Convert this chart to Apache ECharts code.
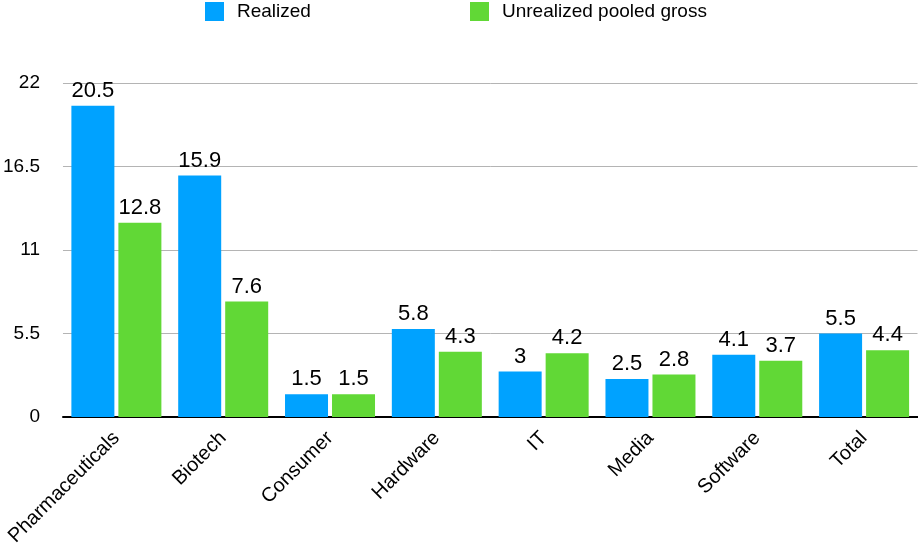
<!DOCTYPE html>
<html>
<head>
<meta charset="utf-8">
<script src="https://cdn.jsdelivr.net/npm/echarts@6/dist/echarts.min.js"></script>
<style>
html,body{margin:0;padding:0;background:#fff;}
#chart{width:918px;height:550px;}
</style>
</head>
<body>
<div id="chart"></div>
<script>
var categories = ['Pharmaceuticals','Biotech','Consumer','Hardware','IT','Media','Software','Total'];
var realized = [20.5, 15.9, 1.5, 5.8, 3, 2.5, 4.1, 5.5];
var unrealized = [12.8, 7.6, 1.5, 4.3, 4.2, 2.8, 3.7, 4.4];
var seriesNames = ['Realized','Unrealized pooled gross'];
var yMin = 0, yMax = 22, yStep = 5.5;

var FONT = '"Liberation Sans", Arial, Helvetica, sans-serif';
var chart = echarts.init(document.getElementById('chart'), null, {renderer:'canvas'});
var legendText = {fontFamily: FONT, fontSize: 19, color:'#000', padding:[0,0,0,8]};
chart.setOption({
  animation: false,
  color: ['#00A2FF', '#61D836'],
  legend: [
    {data:[seriesNames[0]], left:200, top:-3, itemWidth:19, itemHeight:19, icon:'rect', textStyle: legendText},
    {data:[seriesNames[1]], left:465, top:-3, itemWidth:19, itemHeight:19, icon:'rect', textStyle: legendText}
  ],
  grid: {left:62.6, right:0.5, top:83, bottom:133, containLabel:false},
  xAxis: {
    type:'category',
    data: categories,
    axisLine:{lineStyle:{color:'#000', width:2}},
    axisTick:{show:false},
    axisLabel:{rotate:45, interval:0, margin:18, fontFamily:FONT, fontSize:20, color:'#000'}
  },
  yAxis: {
    type:'value', min:yMin, max:yMax, interval:yStep,
    axisLine:{show:false}, axisTick:{show:false},
    splitLine:{lineStyle:{color:'#b4b4b4', width:1}},
    axisLabel:{margin:23, fontFamily:FONT, fontSize:19, color:'#000'}
  },
  series: [
    {name:seriesNames[0], type:'bar', data:realized, barWidth:43, barGap:'9.3%',
     label:{show:true, position:'top', distance:4, fontFamily:FONT, fontSize:22, color:'#000'}},
    {name:seriesNames[1], type:'bar', data:unrealized, barWidth:43, barGap:'9.3%',
     label:{show:true, position:'top', distance:4, fontFamily:FONT, fontSize:22, color:'#000'}}
  ]
});
</script>
</body>
</html>
